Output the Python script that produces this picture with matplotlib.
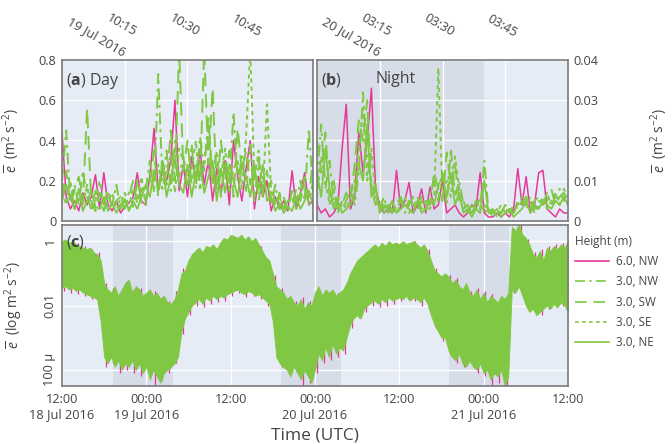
import numpy as np
import pandas as pd
import matplotlib
matplotlib.use('Agg')
import matplotlib.pyplot as plt
from matplotlib.lines import Line2D
from matplotlib.ticker import NullLocator
from matplotlib.transforms import ScaledTranslation

plt.rcParams['font.family'] = ['Open Sans', 'DejaVu Sans']
plt.rcParams['mathtext.fontset'] = 'custom'
plt.rcParams['mathtext.rm'] = 'Open Sans'
plt.rcParams['mathtext.it'] = 'Open Sans:italic'
plt.rcParams['mathtext.bf'] = 'Open Sans:bold'

# ---- TKE, 1-min values, daytime hour (19 Jul 2016 10:00-11:00 UTC) ----
day_start = '2016-07-19 10:00'
day_nw6 = [0.44, 0.12, 0.06, 0.10, 0.05, 0.14, 0.08, 0.12, 0.23, 0.06,
           0.24, 0.08, 0.05, 0.10, 0.04, 0.07, 0.09, 0.12, 0.24, 0.10,
           0.08, 0.22, 0.46, 0.15, 0.25, 0.20, 0.30, 0.60, 0.15, 0.28,
           0.12, 0.32, 0.20, 0.35, 0.18, 0.30, 0.10, 0.26, 0.14, 0.30,
           0.08, 0.40, 0.22, 0.10, 0.26, 0.40, 0.06, 0.22, 0.12, 0.20,
           0.05, 0.12, 0.06, 0.10, 0.05, 0.25, 0.06, 0.14, 0.24, 0.08, 0.10]
day_nw3 = [0.20, 0.45, 0.10, 0.18, 0.08, 0.25, 0.12, 0.06, 0.15, 0.10,
           0.05, 0.12, 0.08, 0.18, 0.06, 0.10, 0.14, 0.07, 0.20, 0.09,
           0.15, 0.30, 0.14, 0.73, 0.20, 0.35, 0.15, 0.40, 0.22, 0.32,
           0.18, 0.38, 0.16, 0.42, 0.25, 0.52, 0.20, 0.35, 0.12, 0.30,
           0.18, 0.54, 0.20, 0.32, 0.15, 0.38, 0.10, 0.30, 0.15, 0.25,
           0.08, 0.18, 0.06, 0.12, 0.05, 0.15, 0.08, 0.20, 0.10, 0.46, 0.15]
day_sw3 = [0.12, 0.25, 0.08, 0.15, 0.22, 0.10, 0.56, 0.10, 0.05, 0.14,
           0.08, 0.16, 0.05, 0.10, 0.12, 0.06, 0.12, 0.20, 0.08, 0.16,
           0.10, 0.18, 0.35, 0.12, 0.30, 0.18, 0.45, 0.20, 0.85, 0.25,
           0.40, 0.18, 0.30, 0.20, 0.85, 0.28, 0.66, 0.15, 0.40, 0.20,
           0.35, 0.12, 0.46, 0.25, 0.35, 0.18, 0.28, 0.10, 0.22, 0.14,
           0.20, 0.07, 0.14, 0.06, 0.10, 0.08, 0.16, 0.10, 0.22, 0.12, 0.30]
day_se3 = [0.15, 0.08, 0.20, 0.06, 0.12, 0.08, 0.18, 0.05, 0.10, 0.20,
           0.07, 0.10, 0.14, 0.06, 0.09, 0.14, 0.06, 0.16, 0.11, 0.22,
           0.08, 0.24, 0.20, 0.28, 0.16, 0.26, 0.32, 0.14, 0.36, 0.30,
           0.22, 0.26, 0.40, 0.15, 0.30, 0.45, 0.18, 0.28, 0.22, 0.36,
           0.14, 0.26, 0.30, 0.16, 0.42, 0.85, 0.20, 0.35, 0.12, 0.58,
           0.14, 0.10, 0.12, 0.05, 0.09, 0.12, 0.06, 0.14, 0.18, 0.08, 0.20]
day_ne3 = [0.10, 0.18, 0.12, 0.06, 0.16, 0.05, 0.10, 0.15, 0.07, 0.06,
           0.12, 0.05, 0.09, 0.04, 0.08, 0.11, 0.05, 0.10, 0.06, 0.12,
           0.18, 0.12, 0.25, 0.16, 0.28, 0.12, 0.22, 0.30, 0.18, 0.14,
           0.28, 0.12, 0.24, 0.30, 0.14, 0.22, 0.30, 0.10, 0.26, 0.14,
           0.28, 0.20, 0.12, 0.28, 0.22, 0.12, 0.25, 0.16, 0.28, 0.10,
           0.12, 0.05, 0.09, 0.04, 0.07, 0.05, 0.12, 0.06, 0.10, 0.15, 0.08]

# ---- TKE, 1-min values, night hour (20 Jul 2016 03:00-04:00 UTC) ----
night_start = '2016-07-20 03:00'
night_nw6 = [0.004, 0.002, 0.003, 0.001, 0.002, 0.004, 0.018, 0.029, 0.003, 0.006,
             0.022, 0.012, 0.020, 0.033, 0.008, 0.004, 0.002, 0.003, 0.002, 0.0126,
             0.003, 0.005, 0.0096, 0.002, 0.004, 0.008, 0.002, 0.0084, 0.003, 0.004,
             0.010, 0.002, 0.003, 0.004, 0.002, 0.001, 0.002, 0.004, 0.003, 0.012,
             0.002, 0.001, 0.001, 0.002, 0.001, 0.002, 0.001, 0.003, 0.013, 0.004,
             0.011, 0.002, 0.004, 0.012, 0.0126, 0.003, 0.002, 0.001, 0.003, 0.002, 0.002]
night_nw3 = [0.010, 0.024, 0.008, 0.015, 0.004, 0.006, 0.003, 0.005, 0.008, 0.004,
             0.012, 0.032, 0.015, 0.010, 0.005, 0.003, 0.006, 0.002, 0.004, 0.003,
             0.005, 0.002, 0.004, 0.006, 0.003, 0.005, 0.002, 0.007, 0.010, 0.005,
             0.012, 0.004, 0.018, 0.006, 0.010, 0.004, 0.003, 0.002, 0.004, 0.003,
             0.015, 0.002, 0.003, 0.001, 0.002, 0.003, 0.002, 0.004, 0.003, 0.005,
             0.004, 0.006, 0.003, 0.005, 0.004, 0.007, 0.004, 0.006, 0.008, 0.005, 0.007]
night_sw3 = [0.020, 0.012, 0.022, 0.006, 0.010, 0.003, 0.004, 0.007, 0.005, 0.014,
             0.025, 0.020, 0.030, 0.008, 0.004, 0.006, 0.003, 0.005, 0.002, 0.004,
             0.006, 0.003, 0.005, 0.004, 0.006, 0.003, 0.005, 0.004, 0.012, 0.008,
             0.005, 0.017, 0.009, 0.014, 0.005, 0.003, 0.004, 0.002, 0.005, 0.003,
             0.004, 0.003, 0.002, 0.003, 0.002, 0.004, 0.003, 0.002, 0.005, 0.004,
             0.006, 0.003, 0.005, 0.006, 0.004, 0.005, 0.008, 0.004, 0.006, 0.007, 0.005]
night_se3 = [0.006, 0.016, 0.010, 0.004, 0.008, 0.002, 0.005, 0.003, 0.006, 0.010,
             0.018, 0.028, 0.010, 0.018, 0.006, 0.004, 0.002, 0.004, 0.003, 0.002,
             0.004, 0.006, 0.002, 0.004, 0.003, 0.006, 0.004, 0.003, 0.006, 0.038,
             0.006, 0.010, 0.006, 0.016, 0.008, 0.005, 0.002, 0.004, 0.003, 0.006,
             0.002, 0.003, 0.001, 0.002, 0.004, 0.002, 0.003, 0.002, 0.004, 0.006,
             0.003, 0.005, 0.002, 0.004, 0.006, 0.003, 0.005, 0.007, 0.004, 0.008, 0.006]
night_ne3 = [0.012, 0.006, 0.018, 0.008, 0.003, 0.005, 0.002, 0.003, 0.004, 0.007,
             0.014, 0.010, 0.024, 0.006, 0.009, 0.002, 0.004, 0.003, 0.005, 0.002,
             0.003, 0.004, 0.003, 0.002, 0.005, 0.002, 0.003, 0.005, 0.004, 0.009,
             0.011, 0.006, 0.012, 0.004, 0.007, 0.002, 0.003, 0.001, 0.003, 0.002,
             0.010, 0.002, 0.002, 0.003, 0.001, 0.002, 0.003, 0.001, 0.002, 0.003,
             0.005, 0.002, 0.004, 0.003, 0.005, 0.004, 0.003, 0.005, 0.004, 0.006, 0.004]

# ---- 3-day record: log10 of 30-min max / min for the 3 m sensors ----
long_start = '2016-07-18 12:00'
long_hi = [0.0, 0.05, -0.05, 0.0, -0.1, -0.15, -0.2, -0.25, -0.2, -0.35,
           -0.4, -0.6, -1.3, -1.5, -1.6, -1.4, -1.7, -1.5, -1.3, -1.2,
           -1.6, -1.4, -1.5, -1.7, -1.6, -1.5, -1.7, -1.6, -1.8, -1.7,
           -1.9, -1.95, -1.8, -1.5, -1.0, -0.9, -0.6, -0.4, -0.3, -0.2,
           -0.35, -0.15, -0.2, -0.1, -0.25, -0.05, 0.1, 0.05, 0.2, 0.15,
           0.1, 0.2, 0.05, 0.15, 0.0, 0.1, -0.1, -0.3, -0.5, -0.6,
           -1.0, -1.4, -1.5, -1.6, -1.8, -1.7, -1.9, -2.0, -1.8, -2.1,
           -1.9, -2.0, -1.6, -1.4, -1.7, -1.5, -1.6, -1.5, -1.7, -1.6,
           -1.5, -1.3, -1.0, -0.8, -0.6, -0.5, -0.4, -0.3, -0.2, -0.1,
           -0.2, -0.05, -0.15, 0.0, -0.1, -0.05, -0.1, 0.0, -0.1, -0.05,
           0.0, -0.1, -0.2, -0.1, -0.3, -0.6, -0.9, -1.0, -1.1, -1.0,
           -1.1, -1.3, -1.2, -1.4, -1.5, -1.3, -1.6, -1.7, -1.5, -1.8,
           -1.6, -1.9, -1.7, -1.8, -1.9, -1.7, -1.8, -1.6, 0.45, 0.3,
           0.55, 0.2, 0.1, -0.1, -0.4, -0.5, -0.3, -0.6, -0.2, -0.3,
           -0.15, -0.25, -0.1, -0.2, 0.0]
long_lo = [-1.45, -1.4, -1.5, -1.45, -1.55, -1.5, -1.6, -1.65, -1.7, -1.75,
           -1.8, -2.5, -3.6, -3.8, -3.6, -3.9, -3.7, -4.0, -3.8, -3.9,
           -3.7, -4.0, -3.8, -4.1, -3.9, -4.3, -4.0, -4.2, -4.4, -4.1,
           -4.0, -3.9, -3.8, -3.6, -2.8, -2.4, -2.2, -2.0, -1.9, -1.8,
           -1.95, -1.75, -1.85, -1.7, -1.8, -1.7, -1.75, -1.65, -1.6, -1.55,
           -1.5, -1.6, -1.65, -1.55, -1.6, -1.7, -1.65, -1.75, -1.85, -1.95,
           -2.5, -3.6, -3.8, -3.9, -4.0, -4.2, -3.9, -4.1, -4.3, -4.0,
           -4.2, -4.4, -4.0, -3.5, -3.7, -3.3, -3.6, -3.2, -3.5, -3.3,
           -3.4, -3.0, -2.6, -2.4, -2.3, -2.4, -2.1, -2.0, -1.9, -1.85,
           -1.95, -1.8, -1.9, -1.75, -1.85, -1.8, -1.75, -1.8, -1.7, -1.85,
           -1.75, -1.8, -1.9, -1.75, -1.95, -2.3, -2.6, -2.8, -3.0, -3.0,
           -3.4, -3.6, -3.7, -3.5, -3.8, -3.9, -3.7, -3.9, -4.0, -3.8,
           -4.1, -4.0, -4.3, -4.1, -4.2, -4.0, -4.5, -4.2, -1.5, -1.6,
           -1.4, -1.7, -2.0, -2.2, -2.1, -2.3, -2.2, -2.1, -2.0, -2.1,
           -1.95, -2.05, -1.9, -2.0, -2.2]
# 6 m sensor, log10 of hourly max / min
long_mag_hi = [0.0, -0.1, -0.05, -0.15, -0.25, -0.35, -1.3, -1.45, -1.6, -1.25,
               -1.5, -1.45, -1.65, -1.55, -1.75, -1.85, -1.55, -0.85, -0.55, -0.25,
               -0.3, -0.2, -0.2, 0.05, 0.15, 0.05, 0.0, 0.0, -0.15, -0.55,
               -1.05, -1.45, -1.75, -1.85, -1.75, -1.85, -1.55, -1.65, -1.55, -1.6,
               -1.45, -0.95, -0.55, -0.35, -0.15, -0.2, -0.1, -0.05, -0.05, -0.05,
               0.0, -0.15, -0.25, -0.85, -1.05, -1.05, -1.15, -1.45, -1.55, -1.45,
               -1.55, -1.65, -1.85, -1.75, 0.4, 0.5, 0.05, -0.35, -0.25, -0.15,
               -0.1, -0.05, 0.0]
long_mag_lo = [-1.55, -1.6, -1.65, -1.7, -1.8, -1.9, -3.9, -3.8, -4.1, -4.0,
               -4.1, -4.2, -4.0, -4.5, -4.3, -4.1, -3.8, -2.9, -2.3, -2.0,
               -2.05, -1.95, -1.9, -1.85, -1.7, -1.6, -1.75, -1.7, -1.8, -2.0,
               -2.6, -3.9, -4.1, -4.0, -4.7, -4.4, -4.1, -3.8, -3.7, -3.6,
               -3.5, -2.7, -2.4, -2.2, -2.0, -2.05, -2.0, -1.95, -1.85, -1.8,
               -1.85, -2.0, -2.05, -2.7, -3.1, -3.5, -3.8, -3.9, -3.8, -4.1,
               -4.2, -4.5, -4.4, -4.6, -1.6, -1.5, -2.1, -2.2, -2.3, -2.1,
               -2.05, -2.0, -2.3]

nights = [('2016-07-18 19:15', '2016-07-19 03:47'),
          ('2016-07-19 19:10', '2016-07-20 03:40'),
          ('2016-07-20 19:04', '2016-07-21 03:36')]

series_labels = ['6.0, NW', '3.0, NW', '3.0, SW', '3.0, SE', '3.0, NE']

pink = '#e5399a'
green = '#80c843'
bg = '#e5ecf6'
night_col = '#d6dce8'
frame_col = '#7a7a7a'
text_col = '#444444'

styles = [dict(color=pink, ls='-', lw=1.1),
          dict(color=green, ls=(0, (6, 2.5, 1.5, 2.5)), lw=1.4),
          dict(color=green, ls=(0, (7, 4)), lw=1.4),
          dict(color=green, ls=(0, (2.2, 2)), lw=1.4),
          dict(color=green, ls='-', lw=1.3)]

fig = plt.figure(figsize=(6.72, 4.44), dpi=100)
W, H = 672, 444


def px_axes(x0, y0, x1, y1):
    return fig.add_axes([x0 / W, 1 - y1 / H, (x1 - x0) / W, (y1 - y0) / H])


ax_a = px_axes(62, 60, 313, 221)
ax_b = px_axes(317, 60, 568, 221)
ax_c = px_axes(62, 225, 568, 386)

for ax in (ax_a, ax_b, ax_c):
    ax.set_facecolor(bg)
    ax.set_axisbelow(True)
    ax.grid(True, color='white', lw=1.0)
    for sp in ax.spines.values():
        sp.set_color(frame_col)
        sp.set_linewidth(1.2)
    ax.tick_params(length=0, labelsize=9.2, labelcolor=text_col)


def shade_nights(ax):
    for s, e in nights:
        ax.axvspan(pd.Timestamp(s), pd.Timestamp(e), color=night_col, lw=0, zorder=0.3)


def top_axis(ax, start, labels):
    t0 = pd.Timestamp(start)
    ax.set_xlim(t0, t0 + pd.Timedelta(minutes=60))
    ax.set_xticks([t0 + pd.Timedelta(minutes=m) for m in (15, 30, 45)])
    ax.set_xticklabels(labels)
    ax.xaxis.tick_top()
    ax.tick_params(axis='x', pad=23)
    # labels hang from the top-right corner of their first line
    shift = ScaledTranslation(14 / 100, 0, fig.dpi_scale_trans)
    for tick in ax.xaxis.get_major_ticks():
        lab = tick.label2
        lab.set_rotation(-30)
        lab.set_rotation_mode('anchor')
        lab.set_ha('right')
        lab.set_va('top')
        lab.set_multialignment('right')
        lab.set_linespacing(1.9)
        lab.set_transform(lab.get_transform() + shift)


ylab = r'$\overline{e}$  (m$^2$ s$^{-2}$)'

# (a) day hour
t_day = pd.date_range(day_start, periods=len(day_nw6), freq='1min')
for vals, st in zip([day_nw6, day_nw3, day_sw3, day_se3, day_ne3], styles):
    ax_a.plot(t_day, vals, **st)
top_axis(ax_a, day_start, ['10:15\n19 Jul 2016', '10:30', '10:45'])
ax_a.set_ylim(0, 0.8)
ax_a.set_yticks([0, 0.2, 0.4, 0.6, 0.8])
ax_a.set_yticklabels(['0', '0.2', '0.4', '0.6', '0.8'])
ax_a.tick_params(axis='y', pad=4)
ax_a.set_ylabel(ylab, fontsize=10, color=text_col)
ax_a.yaxis.set_label_coords(-0.16, 0.5)
ax_a.text(0.015, 0.93, r'($\mathbf{a}$) Day', transform=ax_a.transAxes,
          fontsize=11.5, color=text_col, va='top', ha='left')

# (b) night hour
shade_nights(ax_b)
t_night = pd.date_range(night_start, periods=len(night_nw6), freq='1min')
for vals, st in zip([night_nw6, night_nw3, night_sw3, night_se3, night_ne3], styles):
    ax_b.plot(t_night, vals, **st)
top_axis(ax_b, night_start, ['03:15\n20 Jul 2016', '03:30', '03:45'])
ax_b.set_ylim(0, 0.04)
ax_b.set_yticks([0, 0.01, 0.02, 0.03, 0.04])
ax_b.set_yticklabels(['0', '0.01', '0.02', '0.03', '0.04'])
ax_b.yaxis.tick_right()
ax_b.yaxis.set_label_position('right')
ax_b.tick_params(axis='y', pad=4)
ax_b.set_ylabel(ylab, fontsize=10, color=text_col, rotation=90)
ax_b.yaxis.set_label_coords(1.32, 0.5)
ax_b.text(0.015, 0.93, r'($\mathbf{b}$)', transform=ax_b.transAxes,
          fontsize=11.5, color=text_col, va='top', ha='left')
ax_b.text(0.315, 0.93, 'Night', transform=ax_b.transAxes,
          fontsize=11.5, color=text_col, va='top', ha='center')

# (c) full record, log scale: 3 m band over the 6 m hourly extremes
shade_nights(ax_c)
t_long = pd.date_range(long_start, periods=len(long_hi), freq='30min')
t_mag = pd.date_range(long_start, periods=len(long_mag_hi), freq='1h') + pd.Timedelta(minutes=15)
ax_c.vlines(t_mag, 10.0 ** np.array(long_mag_lo), 10.0 ** np.array(long_mag_hi),
            color=pink, lw=0.9, zorder=1.5)
ax_c.fill_between(t_long, 10.0 ** np.array(long_lo), 10.0 ** np.array(long_hi),
                  color=green, lw=0.6, edgecolor=green, zorder=2)

c0 = pd.Timestamp(long_start)
ax_c.set_xlim(c0, c0 + pd.Timedelta(hours=72))
ax_c.set_xticks([c0 + pd.Timedelta(hours=h) for h in range(0, 73, 12)])
ax_c.set_xticklabels(['12:00\n18 Jul 2016', '00:00\n19 Jul 2016', '12:00',
                      '00:00\n20 Jul 2016', '12:00', '00:00\n21 Jul 2016', '12:00'])
ax_c.tick_params(axis='x', pad=5)
ax_c.set_yscale('log')
ax_c.set_ylim(10 ** -4.5, 10 ** 0.5)
ax_c.set_yticks([1e-4, 1e-2, 1])
ax_c.set_yticklabels(['100 µ', '0.01', '1'], rotation=90, va='center')
ax_c.yaxis.set_minor_locator(NullLocator())
ax_c.tick_params(axis='y', pad=4)
ax_c.set_ylabel(r'$\overline{e}$  (log m$^2$ s$^{-2}$)', fontsize=10, color=text_col)
ax_c.yaxis.set_label_coords(-0.074, 0.5)
ax_c.set_xlabel('Time (UTC)', fontsize=12.5, color=text_col)
ax_c.xaxis.set_label_coords(0.5, -0.26)
ax_c.text(0.008, 0.95, r'($\mathbf{c}$)', transform=ax_c.transAxes,
          fontsize=11.5, color=text_col, va='top', ha='left', zorder=3)

handles = [Line2D([], [], color=st['color'], ls=st['ls'], lw=1.2) for st in styles]
leg = fig.legend(handles, series_labels, title='Height (m)', loc='upper left',
                 bbox_to_anchor=(570 / W, 1 - 230 / H), frameon=False,
                 fontsize=8.5, title_fontsize=8.5, handlelength=2.9,
                 handletextpad=0.6, labelspacing=0.62, borderaxespad=0)
leg._legend_box.align = 'left'
for t in leg.get_texts():
    t.set_color(text_col)
leg.get_title().set_color(text_col)

fig.savefig('out.png', dpi=100, facecolor='white')
